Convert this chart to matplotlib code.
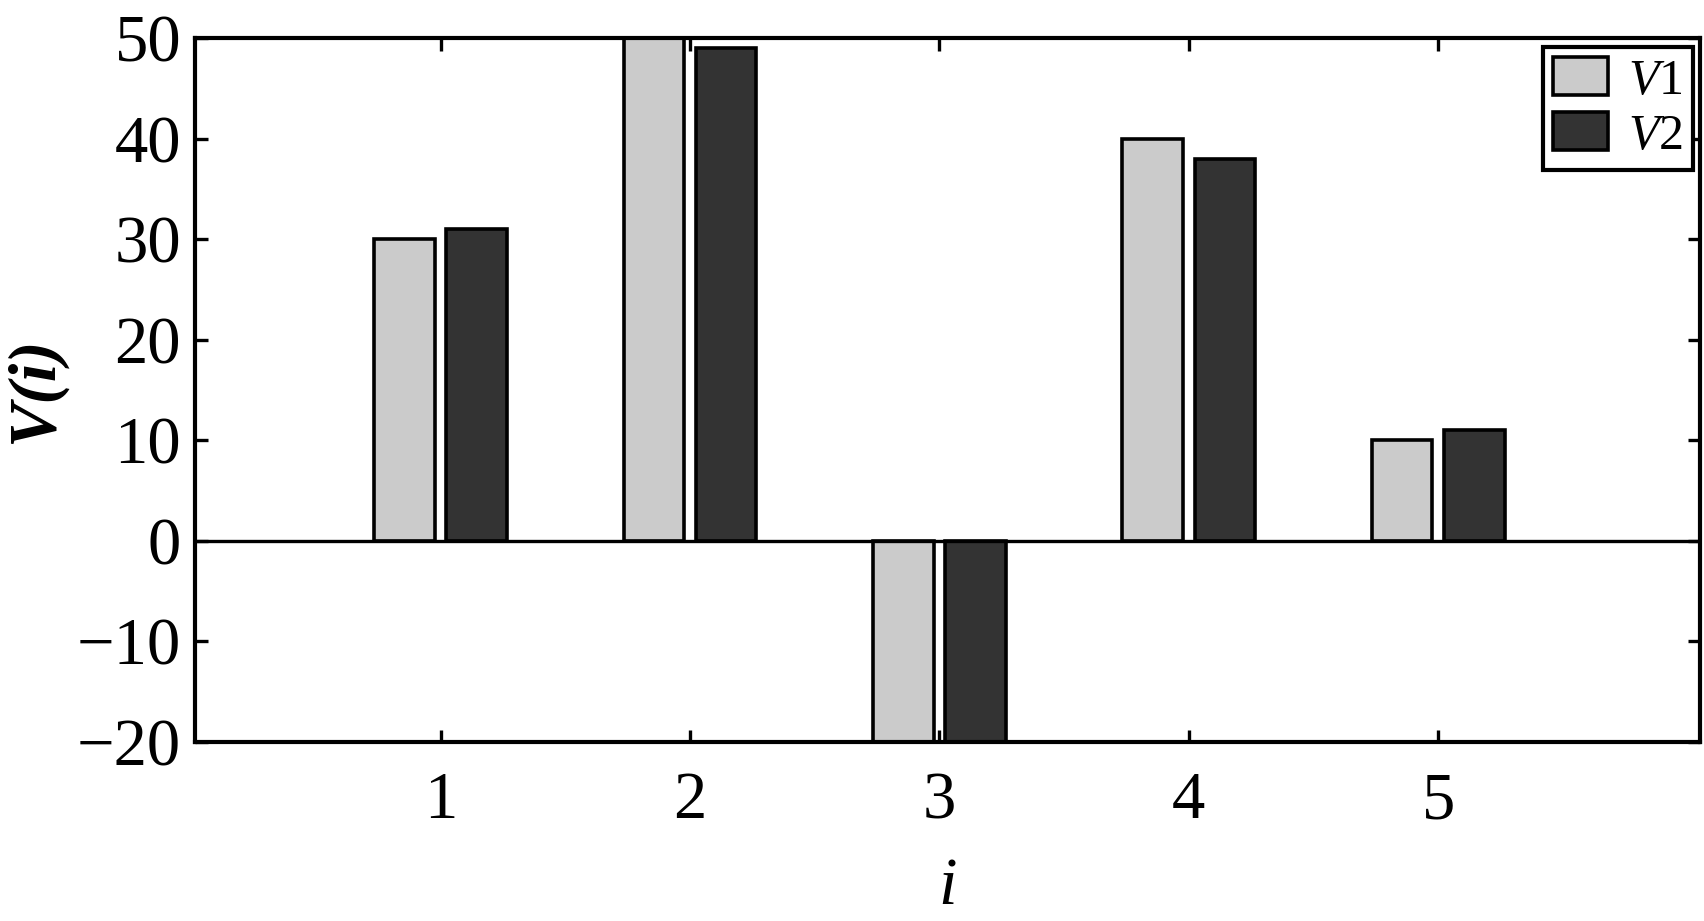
import numpy as np
import matplotlib
matplotlib.use("Agg")
import matplotlib.pyplot as plt

fam = 'Liberation Serif'
plt.rcParams['font.family'] = [fam, 'DejaVu Serif']
plt.rcParams['mathtext.fontset'] = 'custom'
plt.rcParams['mathtext.rm'] = fam
plt.rcParams['mathtext.it'] = fam + ':italic'
plt.rcParams['mathtext.bf'] = fam + ':bold'

categories = [1, 2, 3, 4, 5]
v1 = [30, 50, -20, 40, 10]
v2 = [31, 49, -20, 38, 11]
series_labels = [r'$\mathit{V}$1', r'$\mathit{V}$2']
yticks = [-20, -10, 0, 10, 20, 30, 40, 50]

fig = plt.figure(figsize=(17.04, 9.21), dpi=100)
ax = fig.add_axes([195/1704, 1 - 742/921, (1700-195)/1704, (742-38)/921])

x = np.array(categories, dtype=float)
w = 0.243
off = 0.145
ax.bar(x - off, v1, width=w, color='#cbcbcb', edgecolor='black', linewidth=2.6, label=series_labels[0], zorder=2)
ax.bar(x + off, v2, width=w, color='#333333', edgecolor='black', linewidth=2.6, label=series_labels[1], zorder=2)
ax.axhline(0, color='black', linewidth=2.4, zorder=3)

ax.set_xlim(0.015, 6.05)
ax.set_ylim(-20, 50)
ax.set_xticks(categories)
ax.set_yticks(yticks)
ax.tick_params(direction='in', length=9, width=2.4, top=True, right=True,
               labelsize=48)
ax.tick_params(axis='y', pad=10)
ax.tick_params(axis='x', pad=21)
for s in ax.spines.values():
    s.set_linewidth(3)
    s.set_zorder(4)

ax.set_ylabel('V(i)', fontsize=48, fontweight='bold', style='italic', labelpad=8)
ax.set_xlabel('i', fontsize=48, style='italic', labelpad=18)

leg = ax.legend(loc='upper right', bbox_to_anchor=(0.9953, 0.987), borderaxespad=0,
                fontsize=36, frameon=True, fancybox=False, edgecolor='black',
                handlelength=1.1, handleheight=0.8, handletextpad=0.4,
                labelspacing=0.15, borderpad=0.2)
leg.get_frame().set_linewidth(3)
leg.get_frame().set_alpha(1)

fig.savefig('out.png', dpi=100)
